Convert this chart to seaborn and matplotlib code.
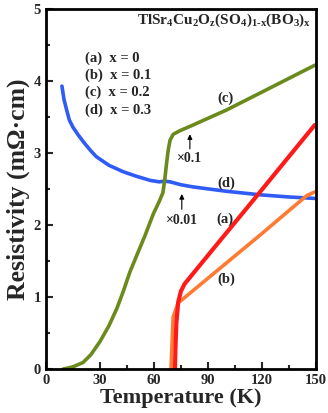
import matplotlib
matplotlib.use("Agg")
from matplotlib import pyplot as plt
from matplotlib.ticker import MultipleLocator
import pandas as pd
import seaborn as sns

# resistivity curves (T in K, rho in mOhm cm)
t_a = [71.7, 72.0, 72.5, 73.5, 75, 77, 94, 119, 135, 149.4]
rho_a = [0.0, 0.3, 0.64, 0.93, 1.08, 1.18, 1.70, 2.46, 2.95, 3.39]

t_b = [69.5, 70.0, 70.7, 73.5, 75.5, 90, 104, 119, 135, 145, 149.4]
rho_b = [0.0, 0.3, 0.72, 0.92, 0.96, 1.26, 1.55, 1.86, 2.2, 2.41, 2.46]

t_c = [9.6, 15, 20.6, 25, 30, 35, 39.4, 43, 46.7, 50, 55, 59.6, 63, 65, 66,
       67, 68, 69, 70.7, 74.4, 80, 100.5, 125, 149.4]
rho_c = [0.0, 0.03, 0.09, 0.2, 0.38, 0.6, 0.84, 1.08, 1.35, 1.55, 1.85, 2.15,
         2.33, 2.45, 2.62, 2.85, 3.05, 3.18, 3.26, 3.31, 3.37, 3.6, 3.91, 4.22]

t_d = [8.9, 10, 11.5, 13, 15, 18, 21, 25, 28, 35, 43, 50, 58, 63, 66, 69, 75,
       81.7, 100, 119, 135, 149.4]
rho_d = [3.93, 3.75, 3.6, 3.46, 3.36, 3.25, 3.15, 3.03, 2.95, 2.83, 2.74, 2.68,
         2.62, 2.60, 2.61, 2.60, 2.56, 2.53, 2.47, 2.42, 2.39, 2.37]

legend_lines = ["(a)  x = 0", "(b)  x = 0.1", "(c)  x = 0.2", "(d)  x = 0.3"]

sns.set_style("ticks")
plt.rcParams["font.family"] = ["Liberation Serif", "DejaVu Serif"]
plt.rcParams["font.weight"] = "bold"
plt.rcParams["mathtext.fontset"] = "custom"
plt.rcParams["mathtext.rm"] = "Liberation Serif:bold"
plt.rcParams["mathtext.it"] = "Liberation Serif:bold"
plt.rcParams["mathtext.bf"] = "Liberation Serif:bold"

fig = plt.figure(figsize=(3.28, 4.13), dpi=100)
ax = fig.add_axes([0.140, 0.1065, 0.823, 0.8715])

sns.lineplot(x=t_d, y=rho_d, ax=ax, color="#2f5cf5", lw=2.6, sort=False)
sns.lineplot(x=t_c, y=rho_c, ax=ax, color="#6b8a1c", lw=2.6, sort=False)
sns.lineplot(x=t_b, y=rho_b, ax=ax, color="#ff7a33", lw=2.6, sort=False)
sns.lineplot(x=t_a, y=rho_a, ax=ax, color="#ff1a1a", lw=3.0, sort=False)

ax.set_xlim(0, 150)
ax.set_ylim(0, 5)
ax.xaxis.set_major_locator(MultipleLocator(30))
ax.xaxis.set_minor_locator(MultipleLocator(15))
ax.yaxis.set_major_locator(MultipleLocator(1))
ax.yaxis.set_minor_locator(MultipleLocator(0.5))
ax.tick_params(which="both", direction="in", width=1.5, labelsize=10.5)
ax.tick_params(which="major", length=5)
ax.tick_params(which="minor", length=3)
for s in ax.spines.values():
    s.set_linewidth(2)
    s.set_color("black")

ax.set_xlabel("Temperature (K)", fontsize=16, fontweight="bold", labelpad=1)
ax.set_ylabel("Resistivity (m\u03a9\u00b7cm)", fontsize=18.5, fontweight="bold", labelpad=3)

# curve labels and scale notes
ax.text(100, 3.76, "(c)", fontsize=10.5, ha="center", va="center")
ax.text(100.5, 2.58, "(d)", fontsize=10.5, ha="center", va="center")
ax.text(99.5, 2.08, "(a)", fontsize=10.5, ha="center", va="center")
ax.text(100.5, 1.24, "(b)", fontsize=10.5, ha="center", va="center")

ax.annotate("", xy=(80, 3.3), xytext=(80, 3.02),
            arrowprops=dict(arrowstyle="-|>", lw=0.8, color="black", mutation_scale=7))
ax.text(80, 2.93, "\u00d70.1", fontsize=10, ha="center", va="center")
ax.annotate("", xy=(75.5, 2.47), xytext=(75.5, 2.18),
            arrowprops=dict(arrowstyle="-|>", lw=0.8, color="black", mutation_scale=7))
ax.text(75.5, 2.07, "\u00d70.01", fontsize=10, ha="center", va="center")

for i, line in enumerate(legend_lines):
    ax.text(21.5, 4.32 - i * 0.24, line, fontsize=10.5, ha="left", va="center")

ax.text(147.5, 4.84, r"TlSr$_4$Cu$_2$O$_z$(SO$_4$)$_{1\text{-}x}$(BO$_3$)$_x$",
        fontsize=11, ha="right", va="center")

fig.savefig("out.png", dpi=100)
